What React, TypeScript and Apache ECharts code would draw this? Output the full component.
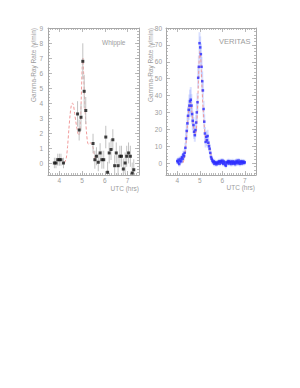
import React, { useEffect, useRef } from "react";
import * as echarts from "echarts";

// ---- Whipple (left) ----
const W_TIME = [3.78, 3.85, 3.93, 4.0, 4.07, 4.18, 4.8, 4.87, 4.95, 5.03, 5.09, 5.16, 5.48, 5.56, 5.63, 5.71, 5.79, 5.87, 5.95, 6.04, 6.12, 6.19, 6.27, 6.35, 6.43, 6.5, 6.58, 6.66, 6.73, 6.81, 6.89, 6.96, 7.04, 7.12, 7.2, 7.27];
const W_RATE = [0.0, 0.0, 0.22, 0.22, 0.22, 0.0, 3.27, 2.2, 3.05, 6.78, 4.78, 3.5, 1.3, 0.22, 0.45, 0.05, 0.67, 0.22, 0.22, 1.73, -0.62, 0.67, 0.9, 1.55, -0.18, 0.67, -0.18, 0.45, 0.45, -0.4, 0.0, 0.45, 0.67, 0.45, -0.67, -0.45];
const W_ERR = [0.35, 0.35, 0.4, 0.4, 0.4, 0.35, 0.85, 0.7, 0.9, 1.2, 1.1, 0.9, 0.65, 0.6, 0.6, 0.6, 0.65, 0.6, 0.6, 0.75, 0.7, 0.7, 0.7, 0.7, 0.7, 0.7, 0.7, 0.7, 0.7, 0.7, 0.7, 0.7, 0.7, 0.7, 0.7, 0.7];
const W_MODEL_T = [4.22, 4.3, 4.36, 4.42, 4.47, 4.52, 4.57, 4.62, 4.67, 4.72, 4.77, 4.82, 4.87, 4.92, 4.96, 5.0, 5.03, 5.06, 5.1, 5.15, 5.2, 5.25, 5.3, 5.35, 5.4, 5.45, 5.5, 5.55, 5.6, 5.66];
const W_MODEL_V = [0.0, 0.3, 1.1, 2.3, 3.2, 3.8, 4.0, 3.85, 3.3, 2.8, 2.3, 1.95, 1.85, 2.6, 4.2, 6.3, 7.0, 6.2, 4.6, 3.0, 1.9, 1.3, 1.25, 1.35, 1.3, 1.2, 0.9, 0.4, 0.15, 0.05];

// ---- VERITAS (right) ----
const V_TIME = [
  4.0, 4.03, 4.06, 4.09, 4.12, 4.15, 4.18, 4.21, 4.24, 4.27,
  4.3, 4.33, 4.36, 4.39, 4.42, 4.45, 4.48, 4.51, 4.54, 4.57,
  4.6, 4.63, 4.66, 4.69, 4.72, 4.75, 4.78, 4.81, 4.84, 4.87,
  4.9, 4.93, 4.96, 4.99, 5.02, 5.05, 5.08, 5.11, 5.14, 5.17,
  5.2, 5.23, 5.26, 5.29, 5.32, 5.35, 5.38, 5.41, 5.44, 5.47,
  5.5, 5.53, 5.56, 5.59, 5.62, 5.65, 5.68, 5.71, 5.74, 5.77,
  5.8, 5.83, 5.86, 5.89, 5.92, 5.95, 5.98, 6.01, 6.04, 6.07,
  6.1, 6.13, 6.16, 6.19, 6.22, 6.25, 6.28, 6.31, 6.34, 6.37,
  6.4, 6.43, 6.46, 6.49, 6.52, 6.55, 6.58, 6.61, 6.64, 6.67,
  6.7, 6.73, 6.76, 6.79, 6.82, 6.85, 6.88, 6.91, 6.94, 6.97,
  7.0,
];
const V_RATE = [
  1.2, 0.4, 2.0, -0.6, 1.0, 2.5, 1.0, 3.5, 2.5, 5.0,
  4.0, 6.0, 9.0, 14.5, 19.0, 23.5, 28.0, 31.5, 34.0, 36.5,
  37.5, 34.0, 29.0, 25.0, 22.5, 18.5, 16.5, 19.5, 24.0, 30.0,
  36.0, 50.5, 57.0, 71.0, 68.5, 64.5, 57.0, 48.5, 43.0, 32.0,
  24.5, 17.5, 12.5, 15.5, 13.5, 16.0, 12.0, 10.0, 8.5, 6.0,
  3.5, 2.5, 1.5, 0.5, 1.0, -0.5, 0.5, 0.0, -0.8, 0.3,
  -0.3, 0.6, 1.0, -0.4, 0.8, 1.2, 0.2, 1.4, -0.5, 0.9,
  0.3, -0.9, -1.6, 0.5, -0.2, 0.8, 1.1, -0.3, 0.5, 0.9,
  -0.6, 0.4, 1.0, -0.4, 0.3, 0.8, -0.7, 0.2, 1.3, 0.6,
  -0.2, 1.5, 0.4, -0.5, 0.7, 1.0, -0.3, 0.5, 0.9, 0.1,
  0.4,
];
const V_ERR = [
  1.6, 1.5, 1.7, 1.5, 1.6, 1.8, 1.6, 2.0, 1.9, 2.3,
  2.2, 2.5, 3.0, 3.6, 4.2, 4.8, 5.4, 6.0, 6.6, 7.0,
  7.5, 6.8, 6.0, 5.4, 4.8, 4.2, 3.9, 4.2, 4.6, 5.0,
  5.5, 6.3, 6.7, 6.5, 6.5, 6.3, 6.0, 5.8, 5.4, 4.9,
  4.3, 3.8, 3.3, 3.6, 3.4, 3.7, 3.2, 3.0, 2.8, 2.4,
  2.0, 1.9, 1.7, 1.6, 1.6, 1.5, 1.5, 1.5, 1.5, 1.5,
  1.5, 1.5, 1.5, 1.5, 1.5, 1.5, 1.5, 1.5, 1.5, 1.5,
  1.5, 1.5, 1.5, 1.5, 1.5, 1.5, 1.5, 1.5, 1.5, 1.5,
  1.5, 1.5, 1.5, 1.5, 1.5, 1.5, 1.5, 1.5, 1.5, 1.5,
  1.5, 1.5, 1.5, 1.5, 1.5, 1.5, 1.5, 1.5, 1.5, 1.5,
  1.5,
];
const V_MODEL_T = [4.25, 4.3, 4.35, 4.4, 4.45, 4.5, 4.55, 4.6, 4.65, 4.7, 4.75, 4.8, 4.85, 4.9, 4.95, 5.0, 5.03, 5.07, 5.1, 5.15, 5.2, 5.25, 5.3, 5.35, 5.4, 5.45, 5.5, 5.55, 5.6, 5.65];
const V_MODEL_V = [0, 2, 6, 13, 22, 30, 35, 36, 30, 24, 19, 17, 20, 32, 52, 66, 65, 55, 45, 32, 22, 15, 13, 13, 11, 8, 5, 2, 0.5, 0];

// ---- axes ----
const X_LABELS = [4, 5, 6, 7];
const W_Y_LABELS = [0, 1, 2, 3, 4, 5, 6, 7, 8, 9];
const V_Y_LABELS = [0, 10, 20, 30, 40, 50, 60, 70, 80];
const X_RANGE = [3.5, 7.5];
const W_Y_RANGE = [-0.8, 9];
const V_Y_RANGE = [-7.1, 80];

const AX = "#a8a8a8";
const TXT = "#9c9c9c";
const FONT = "Liberation Sans";
const TITLE = "Gamma-Ray Rate (γ/min)";

function steps(a: number, b: number, s: number): number[] {
  const out: number[] = [];
  const n = Math.round((b - a) / s);
  for (let i = 0; i <= n; i++) out.push(+(a + i * s).toFixed(3));
  return out;
}

const X_MINOR = steps(3.5, 7.5, 0.1);
const W_Y_MINOR = steps(-0.8, 9, 0.2);
const V_Y_MINOR = steps(-6, 80, 2);

function axis(
  gridIndex: number,
  position: string,
  range: number[],
  ticks: number[],
  len: number,
  labels: number[] | null,
  margin: number,
  showLine: boolean
) {
  return {
    type: "value",
    gridIndex,
    position,
    min: range[0],
    max: range[1],
    axisLine: { show: showLine, onZero: false, lineStyle: { color: AX, width: 1 } },
    axisTick: { show: true, inside: true, length: len, customValues: ticks, lineStyle: { color: AX, width: 0.8 } },
    axisLabel: labels
      ? { show: true, customValues: labels, fontSize: 6.5, color: TXT, fontFamily: FONT, margin }
      : { show: false },
    splitLine: { show: false },
  };
}

function errData(t: number[], v: number[], e: number[]) {
  return t.map((x, i) => [x, v[i] - e[i], v[i] + e[i]]);
}

function errSeries(xi: number, yi: number, data: number[][], color: string, width: number) {
  return {
    type: "custom",
    xAxisIndex: xi,
    yAxisIndex: yi,
    clip: true,
    data,
    renderItem: (params: any, api: any) => {
      const p1 = api.coord([api.value(0), api.value(1)]);
      const p2 = api.coord([api.value(0), api.value(2)]);
      return {
        type: "line",
        shape: { x1: p1[0], y1: p1[1], x2: p2[0], y2: p2[1] },
        style: { stroke: color, lineWidth: width },
      };
    },
  };
}

export default function App() {
  const ref = useRef<HTMLDivElement>(null);
  useEffect(() => {
    if (!ref.current) return;
    const chart = echarts.init(ref.current, null, { renderer: "svg" });
    const xAxis: any[] = [];
    const yAxis: any[] = [];
    // grid 0
    xAxis.push(axis(0, "bottom", X_RANGE, X_LABELS, 4, X_LABELS, 2, true));
    xAxis.push(axis(0, "bottom", X_RANGE, X_MINOR, 2, null, 0, false));
    xAxis.push(axis(0, "top", X_RANGE, X_LABELS, 4, null, 0, true));
    xAxis.push(axis(0, "top", X_RANGE, X_MINOR, 2, null, 0, false));
    yAxis.push(axis(0, "left", W_Y_RANGE, W_Y_LABELS, 4, W_Y_LABELS, 5, true));
    yAxis.push(axis(0, "left", W_Y_RANGE, W_Y_MINOR, 2, null, 0, false));
    yAxis.push(axis(0, "right", W_Y_RANGE, W_Y_LABELS, 4, null, 0, true));
    yAxis.push(axis(0, "right", W_Y_RANGE, W_Y_MINOR, 2, null, 0, false));
    // grid 1
    xAxis.push(axis(1, "bottom", X_RANGE, X_LABELS, 4, X_LABELS, 2, true));
    xAxis.push(axis(1, "bottom", X_RANGE, X_MINOR, 2, null, 0, false));
    xAxis.push(axis(1, "top", X_RANGE, X_LABELS, 4, null, 0, true));
    xAxis.push(axis(1, "top", X_RANGE, X_MINOR, 2, null, 0, false));
    yAxis.push(axis(1, "left", V_Y_RANGE, V_Y_LABELS, 4, V_Y_LABELS, 4, true));
    yAxis.push(axis(1, "left", V_Y_RANGE, V_Y_MINOR, 2, null, 0, false));
    yAxis.push(axis(1, "right", V_Y_RANGE, V_Y_LABELS, 4, null, 0, true));
    yAxis.push(axis(1, "right", V_Y_RANGE, V_Y_MINOR, 2, null, 0, false));

    const textStyle = (text: string, size: number, align: string) => ({
      text,
      fontSize: size,
      fill: TXT,
      fontFamily: FONT,
      align,
      verticalAlign: "middle",
    });

    chart.setOption({
      animation: false,
      backgroundColor: "#ffffff",
      grid: [
        { left: 48, top: 28, width: 91, height: 147 },
        { left: 166, top: 28, width: 90, height: 147 },
      ],
      xAxis,
      yAxis,
      series: [
        {
          type: "line",
          xAxisIndex: 0,
          yAxisIndex: 0,
          data: W_MODEL_T.map((t, i) => [t, W_MODEL_V[i]]),
          showSymbol: false,
          smooth: 0.3,
          lineStyle: { color: "#f29a9a", width: 1, type: [3, 2] },
          z: 1,
        },
        errSeries(0, 0, errData(W_TIME, W_RATE, W_ERR), "#c2c2c2", 1),
        {
          type: "scatter",
          xAxisIndex: 0,
          yAxisIndex: 0,
          data: W_TIME.map((t, i) => [t, W_RATE[i]]),
          symbol: "rect",
          symbolSize: 3,
          itemStyle: { color: "#111111" },
          z: 5,
        },
        errSeries(4, 4, errData(V_TIME, V_RATE, V_ERR), "rgba(150,165,255,0.35)", 2),
        {
          type: "line",
          xAxisIndex: 4,
          yAxisIndex: 4,
          data: V_MODEL_T.map((t, i) => [t, V_MODEL_V[i]]),
          showSymbol: false,
          smooth: 0.3,
          lineStyle: { color: "#f29a9a", width: 1, type: [3, 2] },
          z: 3,
        },
        {
          type: "scatter",
          xAxisIndex: 4,
          yAxisIndex: 4,
          data: V_TIME.map((t, i) => [t, V_RATE[i]]),
          symbol: "rect",
          symbolSize: 2.5,
          itemStyle: { color: "#2a2aff" },
          z: 5,
        },
      ],
      graphic: [
        { type: "text", x: 139, y: 188, style: textStyle("UTC (hrs)", 6.5, "right") },
        { type: "text", x: 255, y: 187, style: textStyle("UTC (hrs)", 6.5, "right") },
        { type: "text", x: 102, y: 42, style: textStyle("Whipple", 6.5, "left") },
        { type: "text", x: 219, y: 41, style: textStyle("VERITAS", 7.5, "left") },
        { type: "text", x: 33, y: 28, rotation: Math.PI / 2, style: textStyle(TITLE, 6.5, "right") },
        { type: "text", x: 150, y: 28, rotation: Math.PI / 2, style: textStyle(TITLE, 6.5, "right") },
      ],
    });
    return () => chart.dispose();
  }, []);
  return (
    <div
      ref={ref}
      style={{ position: "fixed", left: 0, top: 0, width: 300, height: 388, background: "#fff" }}
    />
  );
}
